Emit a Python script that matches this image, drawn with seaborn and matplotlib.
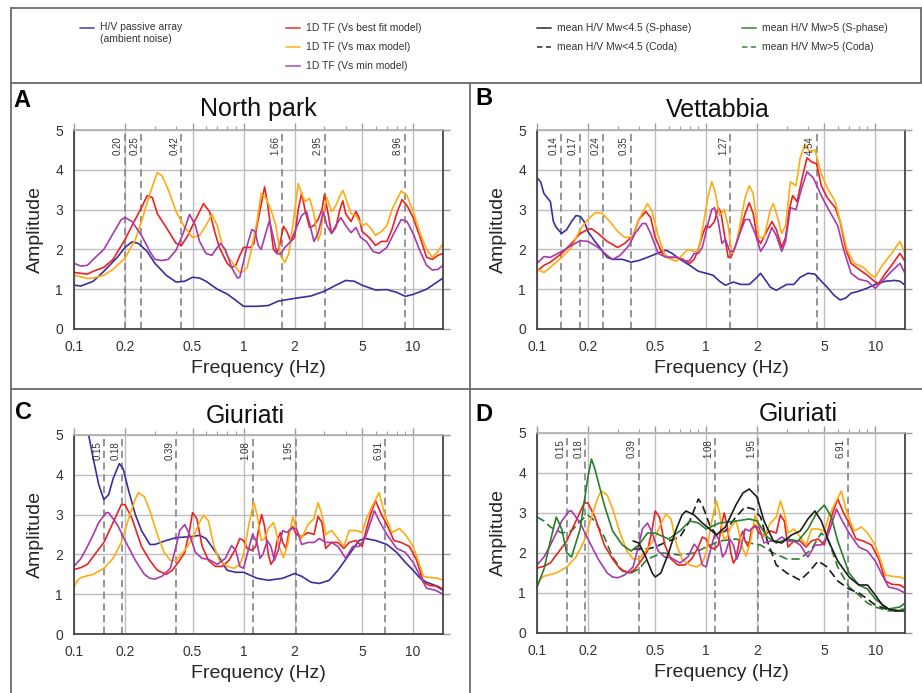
import pandas as pd
import seaborn as sns
import matplotlib.pyplot as plt
from matplotlib.lines import Line2D
from matplotlib.patches import Rectangle
from matplotlib.ticker import FixedLocator, NullFormatter

# ---- data: (frequency Hz, amplitude) ----
A_HV = [(0.10, 1.10), (0.11, 1.08), (0.13, 1.20), (0.15, 1.45), (0.18, 1.80), (0.20, 2.05), (0.22, 2.19),
        (0.24, 2.15), (0.27, 1.95), (0.30, 1.65), (0.35, 1.35), (0.40, 1.18), (0.45, 1.20), (0.50, 1.30),
        (0.55, 1.28), (0.60, 1.20), (0.70, 1.00), (0.80, 0.88), (0.90, 0.72), (1.0, 0.57), (1.2, 0.57),
        (1.4, 0.59), (1.6, 0.70), (2.0, 0.77), (2.5, 0.83), (3.0, 0.95), (3.5, 1.10), (4.0, 1.22),
        (4.5, 1.20), (5.0, 1.10), (6.0, 0.98), (7.0, 0.99), (8.0, 0.92), (9.0, 0.82), (10, 0.87),
        (12, 1.00), (15, 1.28)]
A_BEST = [(0.10, 1.42), (0.12, 1.38), (0.13, 1.45), (0.15, 1.55), (0.17, 1.75), (0.20, 2.25), (0.22, 2.60),
          (0.25, 3.05), (0.27, 3.35), (0.29, 3.30), (0.31, 2.90), (0.35, 2.55), (0.40, 2.15), (0.43, 2.10),
          (0.47, 2.35), (0.50, 2.60), (0.55, 2.95), (0.58, 3.15), (0.63, 2.95), (0.68, 2.40), (0.72, 2.05),
          (0.80, 1.65), (0.85, 1.55), (0.90, 1.60), (0.95, 1.85), (1.00, 2.05), (1.10, 2.05), (1.15, 2.15),
          (1.20, 2.60), (1.28, 3.20), (1.33, 3.57), (1.38, 3.20), (1.45, 2.50), (1.50, 2.00), (1.57, 1.90),
          (1.63, 2.10), (1.72, 2.58), (1.80, 2.45), (1.90, 2.20), (2.00, 2.30), (2.10, 3.00), (2.20, 3.42),
          (2.30, 3.00), (2.45, 2.55), (2.60, 2.60), (2.75, 2.75), (2.90, 3.00), (3.00, 3.38), (3.15, 2.90),
          (3.30, 2.40), (3.50, 2.55), (3.70, 3.00), (3.85, 3.22), (4.00, 2.90), (4.30, 2.70), (4.60, 2.95),
          (4.80, 2.80), (5.00, 2.45), (5.50, 2.30), (6.00, 2.10), (6.50, 2.20), (7.00, 2.20), (7.50, 2.50),
          (8.00, 2.90), (8.60, 3.25), (9.20, 3.10), (10.0, 2.80), (11.0, 2.30), (12.0, 1.80), (13.0, 1.75),
          (14.0, 1.85), (15.0, 1.90)]
A_MAX = [(0.10, 1.35), (0.12, 1.27), (0.13, 1.28), (0.15, 1.35), (0.17, 1.50), (0.20, 1.78), (0.23, 2.25),
         (0.25, 2.70), (0.28, 3.40), (0.31, 3.93), (0.33, 3.85), (0.36, 3.50), (0.40, 2.95), (0.45, 2.55),
         (0.50, 2.30), (0.55, 2.35), (0.60, 2.60), (0.65, 2.88), (0.70, 2.60), (0.75, 2.10), (0.80, 1.85),
         (0.90, 1.55), (0.95, 1.42), (1.00, 1.45), (1.05, 1.55), (1.10, 1.90), (1.20, 2.70), (1.27, 3.40),
         (1.35, 3.30), (1.45, 3.00), (1.55, 2.60), (1.65, 1.85), (1.75, 1.67), (1.85, 1.90), (1.95, 2.60),
         (2.10, 3.65), (2.20, 3.40), (2.30, 3.20), (2.45, 3.28), (2.60, 2.90), (2.75, 2.22), (2.85, 2.40),
         (2.95, 2.90), (3.10, 3.30), (3.30, 2.95), (3.50, 3.10), (3.70, 3.35), (3.85, 3.48), (4.00, 3.30),
         (4.30, 2.90), (4.60, 2.85), (5.00, 2.60), (5.30, 2.65), (5.70, 2.50), (6.00, 2.35), (6.50, 2.45),
         (7.00, 2.60), (7.50, 3.00), (8.50, 3.47), (9.20, 3.35), (10.0, 2.95), (11.0, 2.40), (12.0, 2.00),
         (13.0, 1.80), (14.0, 1.95), (15.0, 2.15)]
A_MIN = [(0.10, 1.65), (0.11, 1.58), (0.12, 1.60), (0.13, 1.75), (0.15, 2.00), (0.17, 2.40), (0.19, 2.75),
         (0.20, 2.80), (0.22, 2.70), (0.25, 2.35), (0.28, 1.95), (0.30, 1.75), (0.33, 1.72), (0.36, 1.75),
         (0.40, 1.98), (0.44, 2.40), (0.48, 2.88), (0.52, 2.60), (0.55, 2.20), (0.60, 1.90), (0.65, 1.85),
         (0.70, 2.05), (0.73, 2.15), (0.78, 2.00), (0.85, 1.55), (0.92, 1.28), (0.95, 1.30), (1.00, 1.70),
         (1.05, 2.10), (1.12, 2.50), (1.17, 2.45), (1.22, 2.10), (1.27, 2.00), (1.35, 2.40), (1.42, 2.72),
         (1.50, 2.30), (1.57, 1.90), (1.65, 1.88), (1.75, 2.05), (1.90, 2.20), (2.05, 2.55), (2.20, 2.85),
         (2.35, 2.95), (2.50, 2.50), (2.60, 2.20), (2.75, 2.40), (2.95, 2.95), (3.10, 2.60), (3.30, 2.40),
         (3.50, 2.60), (3.75, 2.80), (4.00, 2.60), (4.30, 2.42), (4.60, 2.55), (4.90, 2.30), (5.30, 2.20),
         (5.80, 1.95), (6.30, 1.90), (7.00, 2.05), (7.80, 2.45), (8.50, 2.75), (9.20, 2.70), (10.0, 2.40),
         (11.0, 1.95), (12.0, 1.60), (13.0, 1.48), (14.0, 1.50), (15.0, 1.60)]

B_HV = [(0.10, 3.80), (0.105, 3.70), (0.11, 3.40), (0.12, 3.20), (0.125, 2.70), (0.13, 2.55), (0.14, 2.40),
        (0.15, 2.50), (0.16, 2.70), (0.17, 2.85), (0.18, 2.83), (0.19, 2.70), (0.20, 2.45), (0.22, 2.20),
        (0.24, 2.00), (0.26, 1.80), (0.28, 1.75), (0.32, 1.75), (0.36, 1.68), (0.40, 1.72), (0.45, 1.80),
        (0.50, 1.88), (0.55, 1.95), (0.58, 1.98), (0.63, 1.90), (0.70, 1.75), (0.80, 1.60), (0.90, 1.45),
        (1.0, 1.40), (1.1, 1.35), (1.2, 1.20), (1.3, 1.10), (1.45, 1.18), (1.6, 1.12), (1.8, 1.12),
        (2.0, 1.30), (2.1, 1.40), (2.25, 1.22), (2.4, 1.05), (2.6, 0.97), (2.8, 1.05), (3.0, 1.12),
        (3.3, 1.12), (3.6, 1.30), (4.0, 1.40), (4.4, 1.38), (4.8, 1.20), (5.2, 1.05), (5.7, 0.85),
        (6.2, 0.73), (6.7, 0.78), (7.2, 0.90), (8.0, 0.95), (9.0, 1.03), (10, 1.12), (11.5, 1.20),
        (13, 1.22), (14, 1.20), (15, 1.10)]
B_BEST = [(0.10, 1.45), (0.11, 1.60), (0.12, 1.68), (0.14, 1.90), (0.16, 2.15), (0.18, 2.40), (0.20, 2.50),
          (0.21, 2.52), (0.23, 2.40), (0.26, 2.20), (0.30, 2.05), (0.33, 2.15), (0.37, 2.35), (0.40, 2.75),
          (0.44, 2.95), (0.47, 2.80), (0.50, 2.30), (0.55, 1.90), (0.60, 1.80), (0.67, 1.80), (0.73, 1.75),
          (0.80, 1.65), (0.85, 1.75), (0.90, 2.00), (0.95, 2.35), (1.00, 2.60), (1.05, 2.55), (1.12, 2.70),
          (1.18, 3.05), (1.22, 2.95), (1.28, 2.40), (1.35, 1.80), (1.40, 1.80), (1.50, 2.10), (1.60, 2.50),
          (1.70, 2.90), (1.80, 3.17), (1.90, 2.90), (2.00, 2.30), (2.10, 2.15), (2.25, 2.40), (2.45, 2.70),
          (2.60, 2.50), (2.80, 2.05), (2.95, 2.30), (3.10, 3.00), (3.25, 3.35), (3.45, 3.20), (3.70, 3.80),
          (3.95, 4.30), (4.20, 4.20), (4.50, 4.15), (4.80, 3.60), (5.20, 3.30), (5.80, 3.05), (6.20, 2.70),
          (6.70, 2.00), (7.20, 1.65), (8.00, 1.50), (9.00, 1.35), (10.0, 1.18), (10.5, 1.15), (11.5, 1.40),
          (12.5, 1.60), (14.0, 1.90), (15.0, 1.70)]
B_MAX = [(0.10, 1.50), (0.11, 1.42), (0.12, 1.55), (0.14, 1.80), (0.16, 2.05), (0.18, 2.50), (0.20, 2.75),
         (0.22, 2.92), (0.24, 2.92), (0.27, 2.70), (0.30, 2.45), (0.33, 2.30), (0.37, 2.32), (0.40, 2.75),
         (0.45, 3.15), (0.48, 2.95), (0.52, 2.35), (0.57, 1.85), (0.62, 1.75), (0.67, 1.70), (0.72, 1.85),
         (0.78, 2.00), (0.85, 1.95), (0.90, 1.95), (0.95, 2.50), (1.03, 3.35), (1.08, 3.70), (1.13, 3.45),
         (1.20, 2.85), (1.28, 3.00), (1.35, 2.60), (1.42, 1.90), (1.50, 2.10), (1.60, 2.70), (1.70, 3.30),
         (1.80, 3.60), (1.90, 3.40), (2.05, 2.30), (2.20, 2.30), (2.40, 3.00), (2.50, 3.15), (2.65, 2.80),
         (2.80, 2.40), (2.95, 2.60), (3.15, 3.70), (3.40, 3.60), (3.60, 4.30), (3.85, 4.65), (4.10, 4.45),
         (4.40, 4.50), (4.80, 3.90), (5.20, 3.55), (5.80, 3.20), (6.30, 2.60), (6.80, 2.00), (7.50, 1.65),
         (8.50, 1.55), (9.50, 1.35), (10.0, 1.30), (11.0, 1.60), (12.5, 1.90), (14.0, 2.20), (15.0, 1.90)]
B_MIN = [(0.10, 1.65), (0.11, 1.82), (0.12, 1.80), (0.14, 1.95), (0.16, 2.10), (0.18, 2.22), (0.20, 2.20),
         (0.23, 2.05), (0.26, 1.85), (0.28, 1.75), (0.31, 1.85), (0.35, 2.10), (0.38, 2.40), (0.42, 2.65),
         (0.44, 2.65), (0.47, 2.40), (0.52, 1.90), (0.58, 1.80), (0.67, 1.80), (0.75, 1.70), (0.80, 1.72),
         (0.85, 1.90), (0.90, 1.90), (0.95, 2.05), (1.02, 2.60), (1.08, 3.00), (1.12, 3.05), (1.18, 2.70),
         (1.24, 2.15), (1.30, 2.25), (1.38, 1.95), (1.45, 1.95), (1.55, 2.30), (1.70, 2.75), (1.80, 2.75),
         (1.95, 2.40), (2.10, 1.95), (2.25, 2.15), (2.45, 2.55), (2.60, 2.35), (2.80, 1.95), (2.95, 2.20),
         (3.15, 3.05), (3.40, 3.00), (3.65, 3.50), (3.95, 3.95), (4.30, 3.80), (4.80, 3.35), (5.30, 3.00),
         (6.00, 2.60), (6.50, 2.00), (7.20, 1.40), (8.00, 1.25), (9.00, 1.20), (10.0, 1.02), (11.0, 1.20),
         (12.5, 1.45), (14.0, 1.65), (15.0, 1.40)]

C_HV = [(0.122, 5.00), (0.13, 4.40), (0.14, 3.75), (0.15, 3.38), (0.16, 3.50), (0.17, 3.90), (0.185, 4.28),
        (0.195, 4.15), (0.21, 3.60), (0.23, 3.00), (0.25, 2.60), (0.28, 2.25), (0.30, 2.25), (0.35, 2.35),
        (0.40, 2.42), (0.50, 2.45), (0.55, 2.48), (0.60, 2.40), (0.70, 2.00), (0.80, 1.60), (0.90, 1.55),
        (1.0, 1.55), (1.2, 1.40), (1.4, 1.35), (1.7, 1.40), (2.0, 1.52), (2.2, 1.45), (2.5, 1.30),
        (2.8, 1.27), (3.2, 1.35), (3.6, 1.60), (4.2, 2.00), (4.8, 2.35), (5.2, 2.40), (6.0, 2.35),
        (7.0, 2.25), (8.0, 2.05), (9.0, 1.80), (10, 1.60), (11, 1.40), (12, 1.30), (13.5, 1.22), (15, 1.10)]
C_BEST = [(0.10, 1.62), (0.11, 1.67), (0.12, 1.75), (0.13, 1.95), (0.15, 2.30), (0.17, 2.80), (0.19, 3.25),
          (0.20, 3.25), (0.22, 2.90), (0.25, 2.20), (0.28, 1.85), (0.31, 1.60), (0.35, 1.50), (0.38, 1.60),
          (0.42, 1.85), (0.45, 2.05), (0.48, 2.60), (0.50, 3.05), (0.53, 2.90), (0.57, 2.20), (0.62, 1.85),
          (0.68, 1.70), (0.75, 1.70), (0.82, 1.85), (0.90, 2.15), (0.95, 2.40), (1.00, 2.35), (1.05, 2.15),
          (1.12, 2.10), (1.18, 2.20), (1.24, 2.75), (1.28, 3.00), (1.33, 2.70), (1.40, 2.00), (1.45, 1.75),
          (1.50, 1.85), (1.58, 2.35), (1.65, 2.55), (1.70, 2.30), (1.78, 2.15), (1.85, 2.55), (1.95, 2.70),
          (2.05, 2.50), (2.20, 2.45), (2.40, 2.55), (2.60, 2.50), (2.75, 2.95), (2.90, 2.80), (3.05, 2.15),
          (3.30, 2.30), (3.60, 2.30), (3.90, 2.15), (4.20, 2.30), (4.60, 2.35), (5.00, 2.20), (5.20, 2.50),
          (5.60, 3.00), (6.00, 3.35), (6.50, 3.00), (7.00, 2.75), (7.70, 2.35), (8.50, 2.30), (9.50, 2.20),
          (10.5, 1.85), (11.5, 1.30), (12.5, 1.22), (14.0, 1.20), (15.0, 1.12)]
C_MAX = [(0.10, 1.18), (0.105, 1.35), (0.11, 1.42), (0.13, 1.50), (0.15, 1.65), (0.17, 1.90), (0.19, 2.30),
         (0.21, 2.90), (0.23, 3.40), (0.24, 3.55), (0.26, 3.45), (0.28, 3.10), (0.31, 2.50), (0.34, 2.05),
         (0.37, 1.85), (0.40, 1.85), (0.45, 2.10), (0.50, 2.40), (0.55, 2.80), (0.58, 2.98), (0.62, 2.85),
         (0.67, 2.20), (0.72, 1.85), (0.80, 1.70), (0.88, 1.65), (0.95, 1.75), (1.00, 2.00), (1.08, 2.80),
         (1.15, 3.30), (1.20, 3.00), (1.27, 2.35), (1.33, 2.40), (1.40, 2.65), (1.50, 2.80), (1.55, 2.60),
         (1.62, 2.20), (1.72, 1.92), (1.82, 2.25), (1.95, 2.95), (2.05, 2.60), (2.20, 2.40), (2.40, 2.75),
         (2.60, 2.90), (2.75, 3.30), (2.90, 3.00), (3.05, 2.50), (3.30, 2.60), (3.60, 2.40), (3.90, 2.20),
         (4.20, 2.60), (4.60, 2.60), (5.00, 2.55), (5.30, 2.90), (5.80, 3.25), (6.30, 3.55), (6.80, 3.00),
         (7.50, 2.55), (8.30, 2.65), (9.00, 2.50), (10.0, 2.20), (10.8, 1.80), (11.5, 1.45), (12.5, 1.42),
         (14.0, 1.40), (15.0, 1.35)]
C_MIN = [(0.10, 1.70), (0.11, 1.90), (0.12, 2.20), (0.13, 2.50), (0.14, 2.80), (0.155, 3.05), (0.16, 3.05),
         (0.18, 2.75), (0.20, 2.35), (0.23, 1.85), (0.26, 1.50), (0.28, 1.40), (0.30, 1.38), (0.33, 1.45),
         (0.37, 1.65), (0.40, 2.20), (0.42, 2.60), (0.45, 2.75), (0.48, 2.50), (0.52, 2.05), (0.57, 1.90),
         (0.62, 1.88), (0.70, 1.75), (0.78, 1.90), (0.85, 2.22), (0.90, 2.10), (0.95, 1.70), (1.00, 1.65),
         (1.05, 2.00), (1.13, 2.50), (1.20, 2.30), (1.25, 1.90), (1.30, 2.00), (1.38, 2.35), (1.45, 2.20),
         (1.52, 1.85), (1.60, 2.10), (1.70, 2.60), (1.80, 2.55), (1.90, 2.65), (2.05, 2.65), (2.20, 2.25),
         (2.40, 2.30), (2.60, 2.30), (2.80, 2.40), (3.05, 2.30), (3.30, 2.30), (3.60, 2.20), (4.00, 1.90),
         (4.40, 2.20), (4.80, 2.20), (5.20, 2.40), (5.60, 2.80), (5.90, 3.10), (6.30, 2.85), (7.00, 2.50),
         (8.00, 2.15), (9.00, 2.05), (10.0, 1.80), (11.0, 1.45), (12.0, 1.15), (13.5, 1.10), (15.0, 1.00)]

D_LT45_S = [(0.37, 2.30), (0.40, 2.25), (0.44, 1.90), (0.48, 1.50), (0.50, 1.40), (0.54, 1.50), (0.60, 2.00),
            (0.66, 2.55), (0.72, 2.95), (0.76, 3.05), (0.85, 2.95), (0.95, 2.75), (1.05, 2.60), (1.15, 2.45),
            (1.30, 2.65), (1.50, 3.20), (1.65, 3.50), (1.80, 3.60), (2.00, 3.40), (2.20, 2.80), (2.50, 2.30),
            (2.80, 2.25), (3.20, 2.45), (3.60, 2.55), (4.00, 2.85), (4.40, 3.05), (4.80, 2.80), (5.30, 2.30),
            (6.00, 1.80), (7.00, 1.40), (8.00, 1.20), (9.00, 1.20), (10.0, 0.95), (11.0, 0.70), (12.0, 0.60),
            (13.0, 0.55), (15.0, 0.55)]
D_LT45_C = [(0.37, 2.10), (0.45, 2.10), (0.50, 2.15), (0.60, 2.30), (0.70, 2.40), (0.80, 2.80), (0.90, 3.35),
            (0.95, 3.20), (1.05, 2.70), (1.15, 2.45), (1.30, 2.55), (1.50, 2.90), (1.70, 3.15), (1.90, 3.10),
            (2.10, 2.90), (2.30, 2.30), (2.60, 1.70), (3.00, 1.50), (3.60, 1.32), (4.00, 1.50), (4.60, 1.80),
            (5.20, 1.65), (6.00, 1.30), (7.00, 1.10), (8.00, 1.00), (9.00, 0.85), (10.0, 0.70), (12.0, 0.58),
            (15.0, 0.55)]
D_GT5_S = [(0.10, 1.15), (0.11, 1.60), (0.12, 2.30), (0.13, 2.90), (0.14, 2.60), (0.15, 2.00), (0.16, 1.90),
           (0.18, 2.60), (0.20, 3.90), (0.21, 4.35), (0.22, 4.10), (0.25, 3.20), (0.28, 2.55), (0.32, 2.20),
           (0.36, 2.05), (0.40, 2.20), (0.45, 2.50), (0.50, 2.50), (0.60, 2.35), (0.70, 2.55), (0.80, 2.80),
           (0.90, 2.75), (1.00, 2.60), (1.20, 2.75), (1.50, 2.80), (1.80, 2.85), (2.00, 2.80), (2.30, 2.40),
           (2.60, 2.25), (3.00, 2.35), (3.50, 2.30), (4.00, 2.60), (4.50, 3.00), (5.00, 3.20), (5.50, 2.90),
           (6.00, 2.30), (7.00, 1.50), (8.00, 1.20), (9.00, 1.10), (10.0, 0.85), (12.0, 0.60), (14.0, 0.65),
           (15.0, 0.75)]
D_GT5_C = [(0.10, 2.90), (0.11, 2.80), (0.12, 2.65), (0.14, 2.50), (0.16, 2.55), (0.18, 2.80), (0.20, 2.95),
           (0.22, 2.80), (0.25, 2.40), (0.28, 1.90), (0.32, 1.55), (0.36, 1.50), (0.40, 1.60), (0.45, 1.85),
           (0.55, 2.00), (0.70, 1.95), (0.85, 2.00), (1.00, 2.15), (1.20, 2.30), (1.50, 2.35), (1.80, 2.25),
           (2.10, 2.20), (2.50, 2.00), (3.00, 1.85), (3.60, 1.85), (4.20, 2.10), (4.80, 2.50), (5.30, 2.30),
           (6.00, 1.65), (7.00, 1.15), (8.00, 0.95), (9.00, 0.75), (10.0, 0.65), (12.0, 0.55), (15.0, 0.60)]

# dashed reference frequencies: where the line sits, and the printed value
A_PEAK_POS = [0.20, 0.25, 0.43, 1.69, 3.02, 8.93]
A_PEAK_LBL = ["0.20", "0.25", "0.42", "1.66", "2.95", "8.96"]
B_PEAK_POS = [0.139, 0.179, 0.246, 0.359, 1.39, 4.50]
B_PEAK_LBL = ["0.14", "0.17", "0.24", "0.35", "1.27", "4.54"]
C_PEAK_POS = [0.151, 0.193, 0.401, 1.135, 2.03, 6.87]
C_PEAK_LBL = ["0.15", "0.18", "0.39", "1.08", "1.95", "6.91"]

TITLES = ["North park", "Vettabbia", "Giuriati", "Giuriati"]
LETTERS = ["A", "B", "C", "D"]
XTICKS = [0.1, 0.2, 0.5, 1, 2, 5, 10]
XTICK_LABELS = ["0.1", "0.2", "0.5", "1", "2", "5", "10"]

COLORS = {"hv": "#3a2f9e", "best": "#ee2020", "max": "#ffab0f", "min": "#a83aac",
          "lt45_s": "#1c1c1c", "lt45_c": "#1c1c1c", "gt5_s": "#2a7d2a", "gt5_c": "#2a7d2a"}
DASHES = {"hv": "", "best": "", "max": "", "min": "", "lt45_s": "", "lt45_c": (5, 2.5),
          "gt5_s": "", "gt5_c": (5, 2.5)}

W, H = 922, 693


def fx(x):
    return x / W


def fy(y):
    return 1 - y / H


def to_frame(curves):
    parts = []
    for name, pts in curves:
        f, a = zip(*pts)
        parts.append(pd.DataFrame({"freq": f, "amp": a, "series": name}))
    return pd.concat(parts, ignore_index=True)


def draw_panel(ax, curves, peak_pos, peak_lbl):
    df = to_frame(curves)
    names = [n for n, _ in curves]
    for p, lbl in zip(peak_pos, peak_lbl):
        ax.axvline(p, color="#8c8c8c", ls=(0, (4, 2.5)), lw=1.3, zorder=1.5)
        ax.annotate(lbl, xy=(p, 4.84), xytext=(-1.5, 0), textcoords="offset points",
                    rotation=90, ha="right", va="top", fontsize=7, color="#333333")
    sns.lineplot(data=df, x="freq", y="amp", hue="series", style="series",
                 hue_order=names, style_order=names,
                 palette={n: COLORS[n] for n in names},
                 dashes={n: DASHES[n] for n in names},
                 estimator=None, sort=False, legend=False, lw=1.2,
                 solid_joinstyle="round", ax=ax)

    ax.set_xscale("log")
    ax.set_xlim(0.1, 15)
    ax.set_ylim(0, 5)
    ax.set_xticks(XTICKS)
    ax.set_xticklabels(XTICK_LABELS)
    ax.xaxis.set_minor_locator(FixedLocator([0.3, 0.4, 0.6, 0.7, 0.8, 0.9, 3, 4, 6, 7, 8, 9]))
    ax.xaxis.set_minor_formatter(NullFormatter())
    ax.set_yticks(range(6))
    ax.grid(True, which="major", color="#bdbdbd", lw=1.0)
    ax.grid(False, which="minor")
    ax.tick_params(which="major", direction="out", length=5, width=1, color="#9a9a9a",
                   labelsize=10, labelcolor="#333333", top=True, right=True, pad=3)
    ax.tick_params(which="minor", direction="out", length=3, width=0.8, color="#9a9a9a",
                   bottom=False, top=True)
    for s in ["left", "bottom", "right"]:
        ax.spines[s].set_color("#444444")
        ax.spines[s].set_linewidth(1.3)
    ax.spines["top"].set_color("#b0b0b0")
    ax.set_xlabel("Frequency (Hz)", fontsize=14, labelpad=4)
    ax.set_ylabel("Amplitude", fontsize=14, labelpad=8)


sns.set_theme(style="whitegrid")
plt.rcParams["font.family"] = ["Liberation Sans", "DejaVu Sans"]

fig = plt.figure(figsize=(W / 100, H / 100), dpi=100)

# axes boxes in pixels: left, top, right, bottom
boxes = [(74, 130, 443, 329), (537, 130, 905, 329), (74, 435, 443, 634), (537, 433, 905, 633)]
axes = []
for l, t, r, b in boxes:
    axes.append(fig.add_axes([fx(l), fy(b), (r - l) / W, (b - t) / H]))

tf_a = [("hv", A_HV), ("best", A_BEST), ("max", A_MAX), ("min", A_MIN)]
tf_b = [("hv", B_HV), ("best", B_BEST), ("max", B_MAX), ("min", B_MIN)]
tf_c = [("hv", C_HV), ("best", C_BEST), ("max", C_MAX), ("min", C_MIN)]
tf_d = [("gt5_c", D_GT5_C), ("lt45_c", D_LT45_C), ("best", C_BEST), ("max", C_MAX), ("min", C_MIN),
        ("gt5_s", D_GT5_S), ("lt45_s", D_LT45_S)]

draw_panel(axes[0], tf_a, A_PEAK_POS, A_PEAK_LBL)
draw_panel(axes[1], tf_b, B_PEAK_POS, B_PEAK_LBL)
draw_panel(axes[2], tf_c, C_PEAK_POS, C_PEAK_LBL)
draw_panel(axes[3], tf_d, C_PEAK_POS, C_PEAK_LBL)

# titles and panel letters
title_xy = [(258, 116), (718, 117), (245, 423), (798, 421)]
letter_xy = [(13, 107), (475, 105), (15, 419), (475, 421)]
for (tx, ty), (lx, ly), t, letter in zip(title_xy, letter_xy, TITLES, LETTERS):
    fig.text(fx(tx), fy(ty), t, fontsize=18, ha="center", va="baseline", color="#111111")
    fig.text(fx(lx), fy(ly), letter, fontsize=17, fontweight="bold", ha="left", va="baseline",
             color="#000000")

# frames
frame_kw = dict(transform=fig.transFigure, color="#6a6a6a", lw=1.3)
fig.add_artist(Rectangle((fx(11), fy(83)), (921 - 11) / W, (83 - 8) / H, fill=False,
                         transform=fig.transFigure, edgecolor="#6a6a6a", lw=1.3))
fig.add_artist(Line2D([fx(11), fx(11)], [fy(83), fy(693)], **frame_kw))
fig.add_artist(Line2D([fx(470), fx(470)], [fy(83), fy(693)], **frame_kw))
fig.add_artist(Line2D([fx(11), fx(922)], [fy(389), fy(389)], **frame_kw))

# legend
legend_items = [
    (80, 28, "hv", "H/V passive array\n(ambient noise)"),
    (286, 28, "best", "1D TF (Vs best fit model)"),
    (286, 47, "max", "1D TF (Vs max model)"),
    (286, 66, "min", "1D TF (Vs min model)"),
    (537, 28, "lt45_s", "mean H/V Mw<4.5 (S-phase)"),
    (537, 47, "lt45_c", "mean H/V Mw<4.5 (Coda)"),
    (742, 28, "gt5_s", "mean H/V Mw>5 (S-phase)"),
    (742, 47, "gt5_c", "mean H/V Mw>5 (Coda)"),
]
for x0, y0, key, label in legend_items:
    ls = "-" if DASHES[key] == "" else (0, (3, 2))
    fig.add_artist(Line2D([fx(x0), fx(x0 + 14)], [fy(y0), fy(y0)], transform=fig.transFigure,
                          color=COLORS[key], lw=1.3, ls=ls, alpha=0.8))
    multi = "\n" in label
    fig.text(fx(x0 + 20), fy(y0 - 6 if multi else y0), label, fontsize=7.5, ha="left",
             va="top" if multi else "center", color="#333333", linespacing=1.3)

fig.savefig("out.png", dpi=100)
